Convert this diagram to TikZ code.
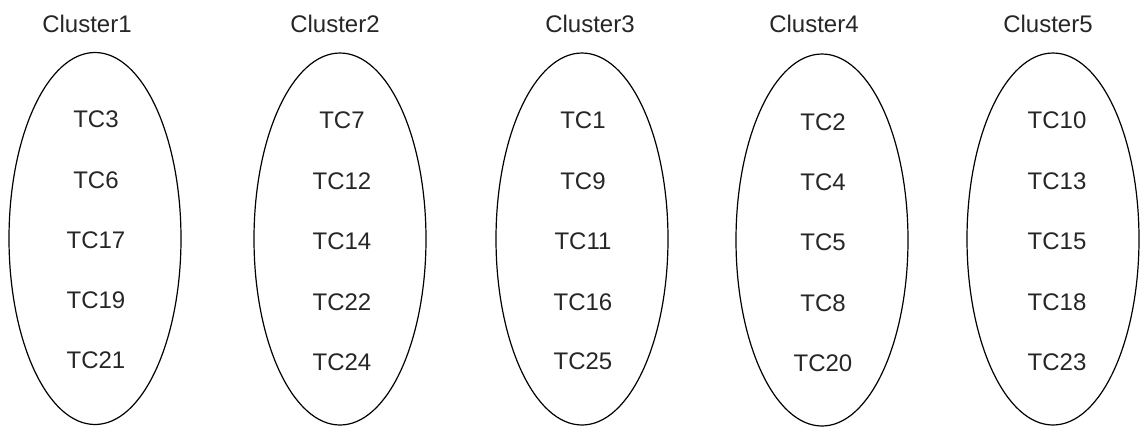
\documentclass[tikz,border=0pt]{standalone}
\usepackage{fontspec}
\setmainfont{Liberation Sans}
\usetikzlibrary{shapes.geometric}
\begin{document}
\begin{tikzpicture}[x=0.75pt,y=-0.75pt,
  cluster/.style={draw=black, line width=0.9pt, ellipse, minimum width=129pt, minimum height=279pt, inner sep=0pt},
  lbl/.style={font=\fontsize{18}{20}\selectfont, text=black!85, inner sep=0pt, anchor=center},
  tc/.style={lbl}]
\useasboundingbox (0,0) rectangle (1143,426);
% ellipses
\node[cluster] (c1) at (95,238.5) {};
\node[cluster] (c2) at (340,239) {};
\node[cluster] (c3) at (582,239) {};
\node[cluster] (c4) at (822,240) {};
\node[cluster] (c5) at (1053,239) {};
% titles
\node[lbl] (t1) at (87,24) {Cluster1};
\node[lbl] (t2) at (335,24) {Cluster2};
\node[lbl] (t3) at (590,24) {Cluster3};
\node[lbl] (t4) at (814,24) {Cluster4};
\node[lbl] (t5) at (1048,24) {Cluster5};
% cluster 1
\node[tc] (a1) at (96,119) {TC3};
\node[tc] (a2) at (96,180) {TC6};
\node[tc] (a3) at (96,240) {TC17};
\node[tc] (a4) at (96,300) {TC19};
\node[tc] (a5) at (96,360) {TC21};
% cluster 2
\node[tc] (b1) at (342,120) {TC7};
\node[tc] (b2) at (342,181) {TC12};
\node[tc] (b3) at (342,241) {TC14};
\node[tc] (b4) at (342,302) {TC22};
\node[tc] (b5) at (342,362) {TC24};
% cluster 3
\node[tc] (d1) at (583,120) {TC1};
\node[tc] (d2) at (583,181) {TC9};
\node[tc] (d3) at (583,241) {TC11};
\node[tc] (d4) at (583,302) {TC16};
\node[tc] (d5) at (583,361) {TC25};
% cluster 4
\node[tc] (e1) at (823,122) {TC2};
\node[tc] (e2) at (823,182) {TC4};
\node[tc] (e3) at (823,242) {TC5};
\node[tc] (e4) at (823,303) {TC8};
\node[tc] (e5) at (823,363) {TC20};
% cluster 5
\node[tc] (f1) at (1057,120) {TC10};
\node[tc] (f2) at (1057,181) {TC13};
\node[tc] (f3) at (1057,241) {TC15};
\node[tc] (f4) at (1057,302) {TC18};
\node[tc] (f5) at (1057,362) {TC23};
\end{tikzpicture}
\end{document}
